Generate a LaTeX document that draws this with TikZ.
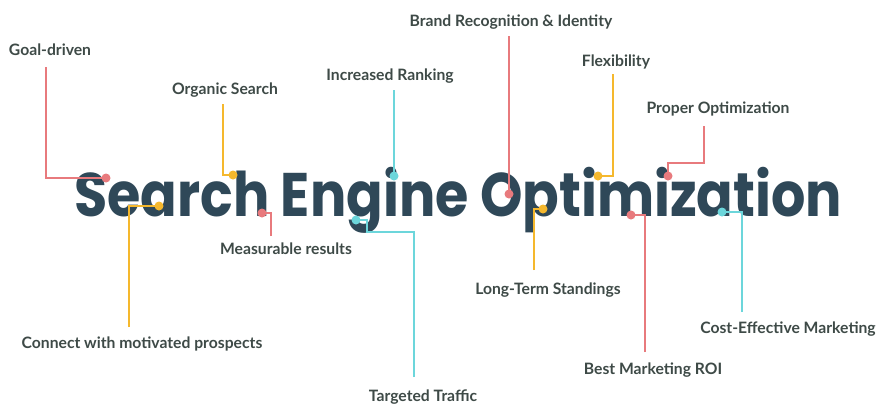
\documentclass[tikz,border=0pt]{standalone}
\usepackage{fontspec}
\usepackage{graphicx}
\newfontfamily\titlefont{Poppins}
\newfontfamily\labfont{Lato}
\definecolor{pinkc}{RGB}{232,122,125}
\definecolor{yelc}{RGB}{245,184,45}
\definecolor{cyanc}{RGB}{108,214,219}
\definecolor{titc}{RGB}{47,72,88}
\definecolor{labc}{RGB}{62,74,71}
\tikzset{
  lab/.style={font=\labfont\bfseries\fontsize{15.7}{17}\selectfont, text=labc, inner sep=0pt, anchor=base},
  dotc/.style={circle, fill=#1, inner sep=0pt, minimum size=9pt},
  conn/.style={draw=#1, line width=2pt}
}
\begin{document}
\begin{tikzpicture}[x=1pt,y=-1pt]
\useasboundingbox[fill=white] (0,0) rectangle (881,408);
\node[anchor=base west, inner sep=0pt, text=titc] (title) at (74,216)
  {\resizebox{768pt}{\height}{\titlefont\bfseries\fontsize{61.5}{64}\selectfont Search Engine Optimization}};

% labels
\node[lab] (l1) at (50,55) {Goal-driven};
\node[lab] (l2) at (225,94) {Organic Search};
\node[lab] (l3) at (390,80) {Increased Ranking};
\node[lab] (l4) at (511,26) {Brand Recognition \& Identity};
\node[lab] (l5) at (616,66) {Flexibility};
\node[lab] (l6) at (718,113) {Proper Optimization};
\node[lab] (l7) at (142,348) {Connect with motivated prospects};
\node[lab] (l8) at (286,254) {Measurable results};
\node[lab] (l9) at (423,401) {Targeted Traffic};
\node[lab] (l10) at (548,294) {Long-Term Standings};
\node[lab] (l11) at (653,374) {Best Marketing ROI};
\node[lab] (l12) at (788,333) {Cost-Effective Marketing};

% line ends
\coordinate (e1) at (46,67);
\coordinate (e2) at (223,104);
\coordinate (e3) at (394,90);
\coordinate (e4) at (509,36);
\coordinate (e5) at (613,74);
\coordinate (e6) at (704,126);
\coordinate (e7) at (129,327);
\coordinate (e8) at (271,236);
\coordinate (e9) at (414,377);
\coordinate (e10) at (534,270);
\coordinate (e11) at (645,352);
\coordinate (e12) at (742,312);

% connectors
\draw[conn=pinkc] (e1) |- (106,178);
\draw[conn=yelc] (e2) |- (233,175);
\draw[conn=cyanc] (e3) -- (394,176);
\draw[conn=pinkc] (e4) -- (509,194);
\draw[conn=yelc] (e5) |- (598,176);
\draw[conn=pinkc] (e6) |- (668,163) -- (668,176);
\draw[conn=yelc] (e7) |- (159,206);
\draw[conn=pinkc] (e8) |- (262,213);
\draw[conn=cyanc] (e9) |- (367,232) |- (356,220);
\draw[conn=yelc] (e10) |- (543,209);
\draw[conn=pinkc] (e11) |- (631,215);
\draw[conn=cyanc] (e12) |- (722,212);

% dots
\node[dotc=pinkc] (d1) at (106,178) {};
\node[dotc=yelc] (d2) at (233,175) {};
\node[dotc=cyanc] (d3) at (394,176) {};
\node[dotc=pinkc] (d4) at (509,194) {};
\node[dotc=yelc] (d5) at (598,176) {};
\node[dotc=pinkc] (d6) at (668,176) {};
\node[dotc=yelc] (d7) at (159,206) {};
\node[dotc=pinkc] (d8) at (262,213) {};
\node[dotc=cyanc] (d9) at (356,220) {};
\node[dotc=yelc] (d10) at (543,209) {};
\node[dotc=pinkc] (d11) at (631,215) {};
\node[dotc=cyanc] (d12) at (722,212) {};
\end{tikzpicture}
\end{document}
